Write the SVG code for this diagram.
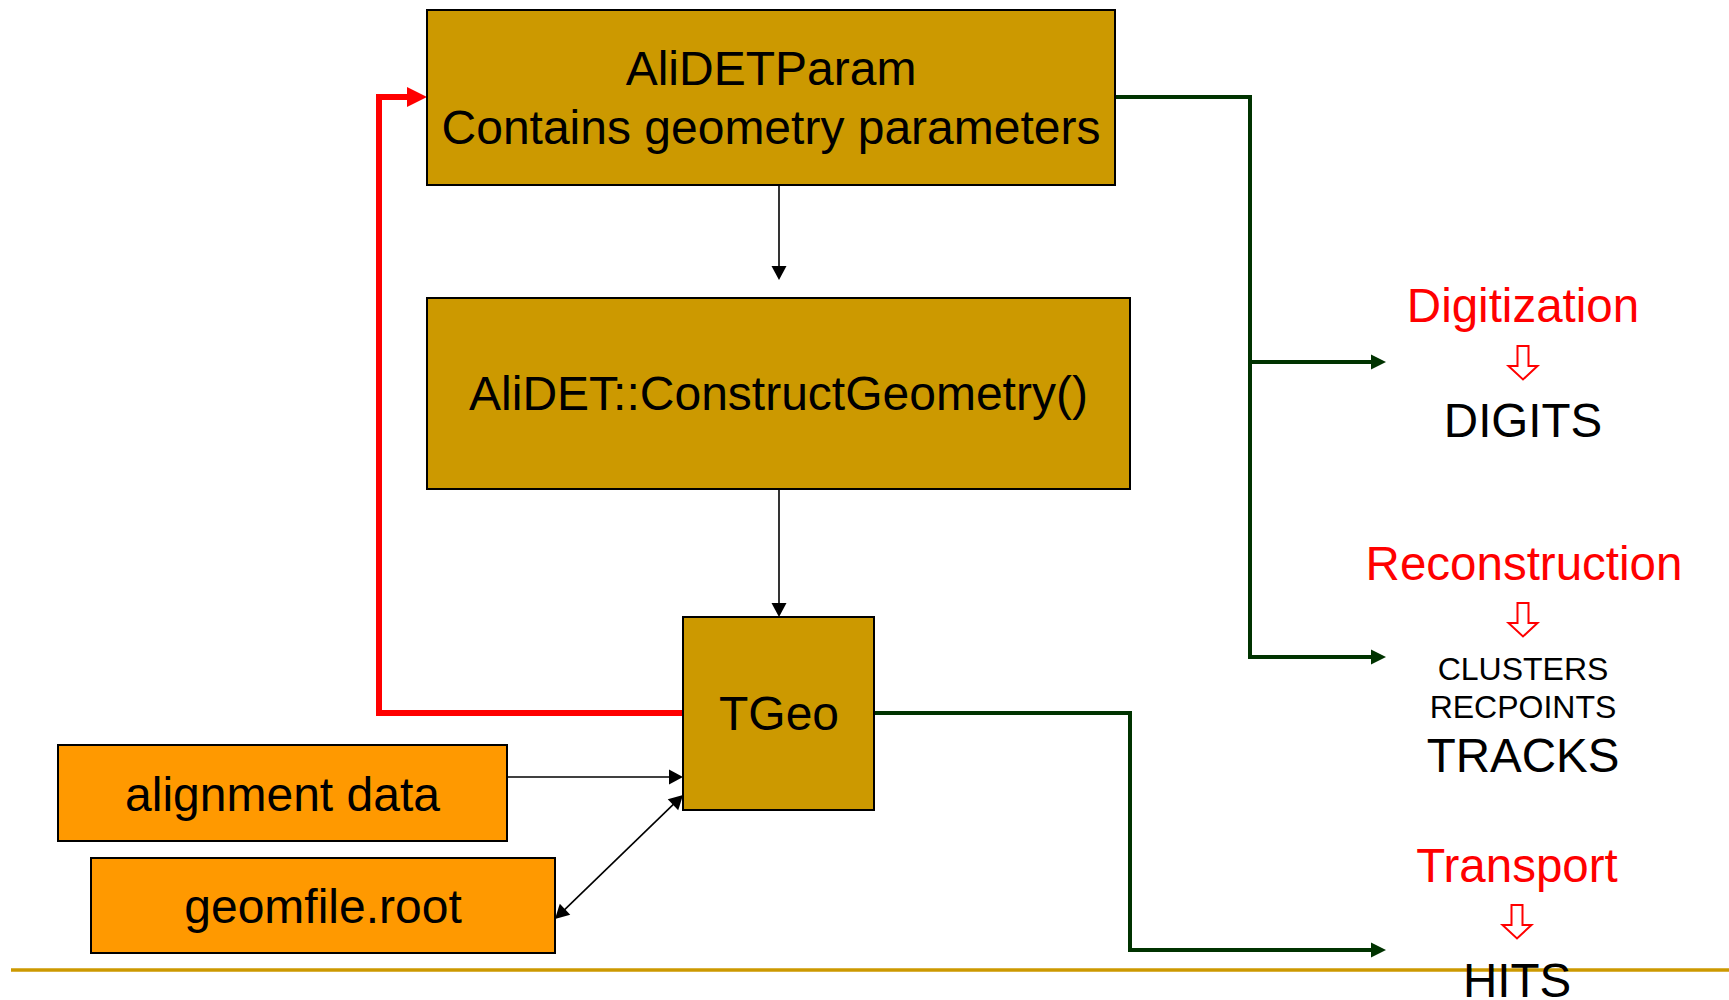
<svg xmlns="http://www.w3.org/2000/svg" width="1729" height="1000" viewBox="0 0 1729 1000">
  <style>
    .t { font-family: "Liberation Sans", Arial, sans-serif; text-anchor: middle; }
    .big { font-size: 48px; fill: #000; }
    .red { font-size: 47.5px; fill: #FF0000; }
    .res { font-size: 47.5px; fill: #000; }
    .small { font-size: 32px; fill: #000; }
    .gold { fill: #CC9900; stroke: #000; stroke-width: 2; }
    .orange { fill: #FF9900; stroke: #000; stroke-width: 2; }
    .blk { fill: none; stroke: #000; stroke-width: 1.6; }
    .grn { fill: none; stroke: #003300; stroke-width: 4; }
    .rd { fill: none; stroke: #FF0000; stroke-width: 6; }
    .harrow { fill: #fff; stroke: #FF0000; stroke-width: 2; }
  </style>
  <defs>
    <marker id="mb" markerUnits="userSpaceOnUse" markerWidth="14" markerHeight="15" refX="12" refY="7.5" orient="auto-start-reverse" overflow="visible">
      <path d="M0,0 L14,7.5 L0,15 z" fill="#000"/>
    </marker>
    <marker id="mg" markerUnits="userSpaceOnUse" markerWidth="15" markerHeight="15" refX="11" refY="7.5" orient="auto" overflow="visible">
      <path d="M0,0 L15,7.5 L0,15 z" fill="#003300"/>
    </marker>
    <marker id="mr" markerUnits="userSpaceOnUse" markerWidth="20" markerHeight="20" refX="14" refY="10" orient="auto" overflow="visible">
      <path d="M0,0 L20,10 L0,20 z" fill="#FF0000"/>
    </marker>
  </defs>

  <line x1="11" y1="970" x2="1729" y2="970" stroke="#CC9900" stroke-width="3.5"/>

  <g id="connectors">
    <line class="blk" x1="779" y1="185" x2="779" y2="278" marker-end="url(#mb)"/>
    <line class="blk" x1="779" y1="489" x2="779" y2="615" marker-end="url(#mb)"/>
    <line class="blk" x1="507" y1="777" x2="681" y2="777" marker-end="url(#mb)"/>
    <line class="blk" x1="556.4" y1="917.6" x2="681.6" y2="796.4" marker-start="url(#mb)" marker-end="url(#mb)"/>
    <path class="rd" d="M683,713 H379 V97 H421" marker-end="url(#mr)"/>
    <path class="grn" d="M1115,97 H1250 V657 H1382" marker-end="url(#mg)"/>
    <path class="grn" d="M1250,362 H1382" marker-end="url(#mg)"/>
    <path class="grn" d="M874,713 H1130 V950 H1382" marker-end="url(#mg)"/>
  </g>

  <g id="node-param">
    <rect class="gold" x="427" y="10" width="688" height="175"/>
    <text class="t big" x="771" y="85">AliDETParam</text>
    <text class="t big" x="771" y="144">Contains geometry parameters</text>
  </g>

  <g id="node-construct">
    <rect class="gold" x="427" y="298" width="703" height="191"/>
    <text class="t big" x="778.5" y="410">AliDET::ConstructGeometry()</text>
  </g>

  <g id="node-tgeo">
    <rect class="gold" x="683" y="617" width="191" height="193"/>
    <text class="t big" x="779" y="730">TGeo</text>
  </g>

  <g id="node-alignment">
    <rect class="orange" x="58" y="745" width="449" height="96"/>
    <text class="t big" x="282.5" y="811">alignment data</text>
  </g>

  <g id="node-geomfile">
    <rect class="orange" x="91" y="858" width="464" height="95"/>
    <text class="t big" x="323" y="923">geomfile.root</text>
  </g>

  <g id="node-digitization">
    <text class="t red" x="1523" y="322">Digitization</text>
    <polygon class="harrow" points="1517.5,346 1528.5,346 1528.5,366 1537.5,366 1523,379.5 1508.5,366 1517.5,366"/>
    <text class="t res" x="1523" y="437">DIGITS</text>
  </g>

  <g id="node-reconstruction">
    <text class="t red" x="1524" y="580">Reconstruction</text>
    <polygon class="harrow" points="1517.5,603 1528.5,603 1528.5,623 1537.5,623 1523,636.5 1508.5,623 1517.5,623"/>
    <text class="t small" x="1523" y="680">CLUSTERS</text>
    <text class="t small" x="1523" y="718">RECPOINTS</text>
    <text class="t res" x="1523" y="772">TRACKS</text>
  </g>

  <g id="node-transport">
    <text class="t red" x="1517" y="882">Transport</text>
    <polygon class="harrow" points="1511.5,905 1522.5,905 1522.5,925 1531.5,925 1517,938.5 1502.5,925 1511.5,925"/>
    <text class="t res" x="1517" y="997">HITS</text>
  </g>
</svg>
